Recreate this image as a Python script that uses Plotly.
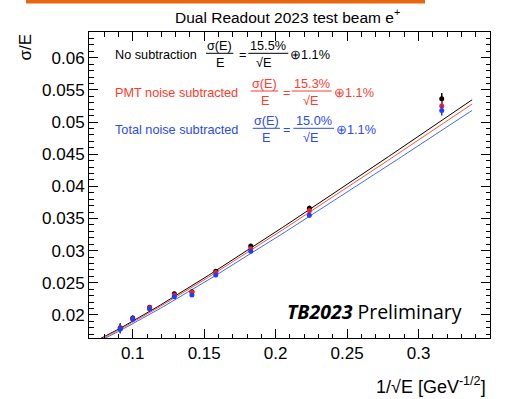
import numpy as np
import plotly.graph_objects as go

# ---- data ----
energies = [10, 20, 30, 40, 50, 60, 80, 100, 120]          # GeV
res_nosub = [0.0536, 0.0366, 0.0307, 0.0268, 0.0236, 0.0233, 0.0212, 0.0195, 0.0180]
res_pmt   = [0.0525, 0.0362, 0.0303, 0.0266, 0.0235, 0.0231, 0.0211, 0.0194, 0.0179]
res_tot   = [0.0518, 0.0355, 0.0299, 0.0262, 0.0231, 0.0228, 0.0209, 0.0193, 0.0178]
err_nosub = [0.0009, 0.0004, 0.0003, 0.0003, 0.0003, 0.0003, 0.0003, 0.0004, 0.0007]
err_pmt   = [0.0008, 0.0004, 0.0003, 0.0003, 0.0003, 0.0003, 0.0003, 0.0004, 0.0007]
err_tot   = [0.0008, 0.0004, 0.0003, 0.0003, 0.0003, 0.0003, 0.0003, 0.0004, 0.0007]
# fit parameters (stochastic term, constant term) from the legend
stoch = [0.155, 0.153, 0.150]
const = [0.011, 0.011, 0.011]
fit_range = [0.07, 0.3375]
names = ["No subtraction", "PMT noise subtracted", "Total noise subtracted"]
stoch_labels = ["15.5%", "15.3%", "15.0%"]
const_label = "1.1%"
x_ticks = [0.1, 0.15, 0.2, 0.25, 0.3, 0.35]
x_ticklabels = ["0.1", "0.15", "0.2", "0.25", "0.3", "0.35"]
y_ticks = [0.02, 0.025, 0.03, 0.035, 0.04, 0.045, 0.05, 0.055, 0.06]
y_ticklabels = ["0.02", "0.025", "0.03", "0.035", "0.04", "0.045", "0.05", "0.055", "0.06"]
x_range = [0.0694, 0.35]
y_range = [0.0164, 0.0640]

W, H = 506, 399
L, R, T, B = 89, 490, 32, 338
FONT = "Liberation Sans, Arial, sans-serif"
marker_cols = ["#000000", "#ee2222", "#1f3cff"]
line_cols = ["#000000", "#ff5533", "#3f6bff"]
text_cols = ["#000000", "#ff3b2b", "#2a4cf0"]

x = [1 / np.sqrt(e) for e in energies]
xf = np.linspace(fit_range[0], fit_range[1], 120)

fig = go.Figure()
for i in range(3):
    yf = np.sqrt((stoch[i] * xf) ** 2 + const[i] ** 2)
    fig.add_trace(go.Scatter(x=xf, y=yf, mode="lines",
                             line=dict(color=line_cols[i], width=1), showlegend=False,
                             hoverinfo="skip"))
for i, (vals, errs) in enumerate([(res_nosub, err_nosub), (res_pmt, err_pmt), (res_tot, err_tot)]):
    fig.add_trace(go.Scatter(x=x, y=vals, mode="markers", name=names[i],
                             marker=dict(color=marker_cols[i], size=5),
                             error_y=dict(type="data", array=errs, width=0,
                                          thickness=1.5, color=marker_cols[i]),
                             showlegend=False))
# invisible trace so the mirrored (top/right) axes are drawn
fig.add_trace(go.Scatter(x=[x_ticks[0]], y=[y_ticks[0]], xaxis="x2", yaxis="y2",
                         mode="markers", marker=dict(opacity=0), showlegend=False,
                         hoverinfo="skip"))

def px(v):
    return (v - L) / (R - L)

def py(v):
    return (B - v) / (B - T)

ann = []
shapes = []

def txt(s, xp, yp, size, color, xanchor="center", yanchor="middle", family=FONT, angle=0):
    ann.append(dict(text=s, x=px(xp), y=py(yp), xref="paper", yref="paper",
                    xanchor=xanchor, yanchor=yanchor, showarrow=False, textangle=angle,
                    font=dict(size=size, color=color, family=family)))

def hline(x0, x1, yv, color):
    shapes.append(dict(type="line", xref="paper", yref="paper",
                       x0=px(x0), x1=px(x1), y0=py(yv), y1=py(yv),
                       line=dict(color=color, width=1)))

rows = [
    dict(ly=55.0, f1=(206, 233.3), eq=242.3, f2=(248.3, 288.3), sq=263, op=288.3),
    dict(ly=92.7, f1=(250.7, 278.3), eq=286.0, f2=(291.7, 331.7), sq=310, op=331.7),
    dict(ly=130.0, f1=(252.7, 280.0), eq=286.7, f2=(293.3, 334.0), sq=310, op=334.0),
]
fs = 12.7
for i, r in enumerate(rows):
    c = text_cols[i]
    yb = r["ly"] - 1.7
    txt(names[i], 113.3, r["ly"], fs, c, xanchor="left")
    c1 = (r["f1"][0] + r["f1"][1]) / 2
    txt("σ(E)", c1, yb - 7, fs, c)
    hline(r["f1"][0], r["f1"][1], yb, c)
    txt("E", c1, yb + 9.5, fs, c)
    txt("=", r["eq"], r["ly"], fs, c)
    c2 = (r["f2"][0] + r["f2"][1]) / 2
    txt(stoch_labels[i], c2, yb - 7, fs, c)
    hline(r["f2"][0], r["f2"][1], yb, c)
    txt("√E", r["sq"], yb + 9.5, fs, c)
    txt("⊕" + const_label, r["op"], r["ly"], fs, c, xanchor="left")

txt("Dual Readout 2023 test beam e<sup>+</sup>", 287, 16, 15.5, "#000000")
txt("σ/E", 25, 32, 17, "#000000", yanchor="top", angle=-90)
txt("1/√E [GeV<sup>-1/2</sup>]", 488, 386, 18, "#000000", xanchor="right")
txt("<b><i>TB2023</i></b> Preliminary", 285, 311.7, 19.5, "#000000", xanchor="left",
    family="Open Sans, Noto Sans, sans-serif")

shapes.append(dict(type="rect", xref="paper", yref="paper",
                   x0=px(26), x1=px(425), y0=py(3.5), y1=py(-2),
                   fillcolor="#e8660d", line=dict(width=0)))

def axis_style(tickvals, ticktext, rng, minor_dtick, show_labels=True):
    return dict(range=rng, tickvals=tickvals, ticktext=ticktext,
                ticks="inside", ticklen=9, tickwidth=1, tickcolor="black",
                showline=True, linecolor="black", linewidth=1,
                showgrid=False, zeroline=False, showticklabels=show_labels,
                minor=dict(dtick=minor_dtick, tick0=0, ticks="inside", ticklen=4.5,
                           tickcolor="black", showgrid=False),
                tickfont=dict(size=17))

xa = axis_style(x_ticks, x_ticklabels, x_range, 0.01)
ya = axis_style(y_ticks, y_ticklabels, y_range, 0.001)
xa2 = axis_style(x_ticks, x_ticklabels, x_range, 0.01, show_labels=False)
xa2.update(side="top", overlaying="x", anchor="y")
ya2 = axis_style(y_ticks, y_ticklabels, y_range, 0.001, show_labels=False)
ya2.update(side="right", overlaying="y", anchor="x")

fig.update_layout(
    width=W, height=H,
    margin=dict(l=L, r=W - R, t=T, b=H - B),
    paper_bgcolor="white", plot_bgcolor="white",
    font=dict(family=FONT, size=17, color="black"),
    annotations=ann, shapes=shapes, showlegend=False,
    xaxis=xa, yaxis=ya, xaxis2=xa2, yaxis2=ya2,
)

fig.write_html("out.html")
